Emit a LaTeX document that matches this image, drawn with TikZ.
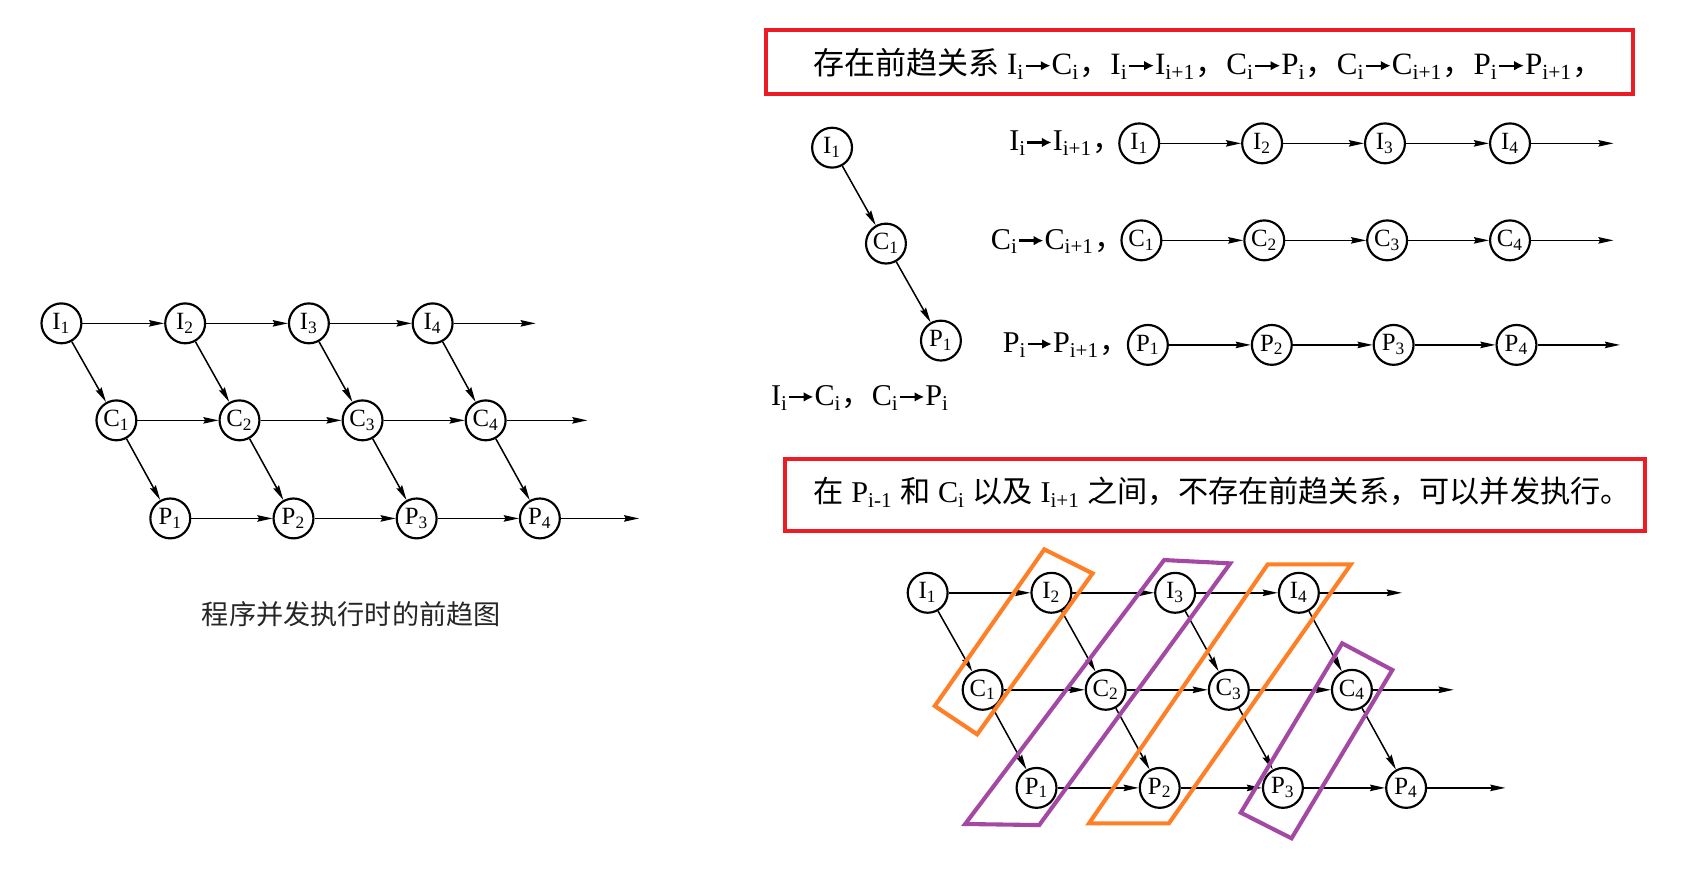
\documentclass[tikz,border=0pt]{standalone}
\usepackage{fontspec}
\setmainfont{Liberation Serif}
\newfontfamily\cjk{Noto Sans CJK SC}
\usetikzlibrary{arrows.meta}
\definecolor{myred}{RGB}{237,28,36}
\definecolor{myorange}{RGB}{255,127,39}
\definecolor{mypurple}{RGB}{163,73,164}
\newcommand{\sbs}[1]{\textsubscript{#1}}
\newcommand{\rar}{\tikz[baseline=-0.28em]\draw[line width=1.1pt,-{Latex[length=4.5pt,width=4.5pt]}](0,0)--(0.8em,0);}
\newcommand{\gridgraph}[1]{%
  \foreach \k in {1,...,4} {
    \node[st] (#1I\k) at ({57+114.8*(\k-1)},300) {I\sbs{\k}};
    \node[st] (#1C\k) at ({108+114.2*(\k-1)},390) {C\sbs{\k}};
    \node[st] (#1P\k) at ({158+114.3*(\k-1)},481) {P\sbs{\k}};
  }
  \coordinate (#1Ie) at (497,300);
  \coordinate (#1Ce) at (545,390);
  \coordinate (#1Pe) at (593,481);
  \foreach \k/\n in {1/2,2/3,3/4} {
    \draw[arr] (#1I\k) -- (#1I\n);
    \draw[arr] (#1C\k) -- (#1C\n);
    \draw[arr] (#1P\k) -- (#1P\n);
  }
  \foreach \k in {1,...,4} {
    \draw[arr] (#1I\k) -- (#1C\k);
    \draw[arr] (#1C\k) -- (#1P\k);
  }
  \draw[arr] (#1I4) -- (#1Ie);
  \draw[arr] (#1C4) -- (#1Ce);
  \draw[arr] (#1P4) -- (#1Pe);
}
\tikzset{
  st/.style={circle,draw,line width=1pt,minimum size=18.5pt,inner sep=0pt,font=\fontsize{11.5}{11.5}\selectfont},
  arr/.style={line width=0.7pt,-{Stealth[length=7pt,width=3pt,inset=0.8pt]}},
  hl/.style={line width=1.9pt,line join=miter},
  txt/.style={inner sep=0pt,font=\fontsize{14}{16}\selectfont},
}
\begin{document}
\begin{tikzpicture}[x=0.5pt,y=-0.5pt]
\useasboundingbox (0,0) rectangle (1568,820);
% left graph
\begin{scope}
\gridgraph{L}
\end{scope}
\node[txt,font=\fontsize{12.6}{15}\selectfont\cjk,text=black!85] (cap) at (326,570) {程序并发执行时的前趋图};

% top red box
\draw[hl,myred] (711,28) rectangle (1515,87);
\node[txt,font=\fontsize{14.4}{16}\selectfont] (t1) at (1121,59) {{\cjk 存在前趋关系} I\sbs{i}\rar C\sbs{i}{\cjk ，}I\sbs{i}\rar I\sbs{i+1}{\cjk ，}C\sbs{i}\rar P\sbs{i}{\cjk ，}C\sbs{i}\rar C\sbs{i+1}{\cjk ，}P\sbs{i}\rar P\sbs{i+1}{\cjk ，}};

% small chain
\node[st] (SI) at (772,137) {I\sbs{1}};
\node[st] (SC) at (822,226) {C\sbs{1}};
\node[st] (SP) at (873,316) {P\sbs{1}};
\draw[arr] (SI) -- (SC);
\draw[arr] (SC) -- (SP);
\node[txt,anchor=west] (sl) at (715,369) {I\sbs{i}\rar C\sbs{i}{\cjk ，}C\sbs{i}\rar P\sbs{i}};

% rows
\node[txt,anchor=west] (lI) at (936,133) {I\sbs{i}\rar I\sbs{i+1}{\cjk ，}};
\node[txt,anchor=west] (lC) at (919,224) {C\sbs{i}\rar C\sbs{i+1}{\cjk ，}};
\node[txt,anchor=west] (lP) at (930,320) {P\sbs{i}\rar P\sbs{i+1}{\cjk ，}};
\foreach \k/\x in {1/1057,2/1171,3/1285,4/1401} {
  \node[st] (RI\k) at (\x,133) {I\sbs{\k}};
}
\foreach \k/\x in {1/1059,2/1173,3/1287,4/1401} {
  \node[st] (RC\k) at (\x,223) {C\sbs{\k}};
}
\foreach \k/\x in {1/1065,2/1180,3/1293,4/1407} {
  \node[st] (RP\k) at (\x,320) {P\sbs{\k}};
}
\coordinate (RIe) at (1497,133);
\coordinate (RCe) at (1497,223);
\coordinate (RPe) at (1503,320);
\foreach \k/\n in {1/2,2/3,3/4} {
  \draw[arr] (RI\k) -- (RI\n);
  \draw[arr] (RC\k) -- (RC\n);
  \draw[arr] (RP\k) -- (RP\n);
}
\draw[arr] (RI4) -- (RIe);
\draw[arr] (RC4) -- (RCe);
\draw[arr] (RP4) -- (RPe);

% second red box
\draw[hl,myred] (728,426) rectangle (1526,493);
\node[txt] (t2) at (1134,457) {{\cjk 在} P\sbs{i-1} {\cjk 和} C\sbs{i} {\cjk 以及} I\sbs{i+1} {\cjk 之间，不存在前趋关系，可以并发执行。}};

% bottom graph
\begin{scope}[shift={(803.7,250)}]
\gridgraph{B}
\end{scope}
\draw[hl,myorange] (968.9,509.7) -- (1013.7,532) -- (906.6,681.3) -- (867.3,655) -- cycle;
\draw[hl,mypurple] (1080.1,519.6) -- (1141.4,522.7) -- (964.2,765.5) -- (895.5,764.5) -- cycle;
\draw[hl,myorange] (1176.2,523.6) -- (1253.3,523.6) -- (1084.5,763.9) -- (1010.4,763.9) -- cycle;
\draw[hl,mypurple] (1245.3,596.9) -- (1291.8,621.6) -- (1198.3,777.8) -- (1151.2,754) -- cycle;
\end{tikzpicture}
\end{document}
